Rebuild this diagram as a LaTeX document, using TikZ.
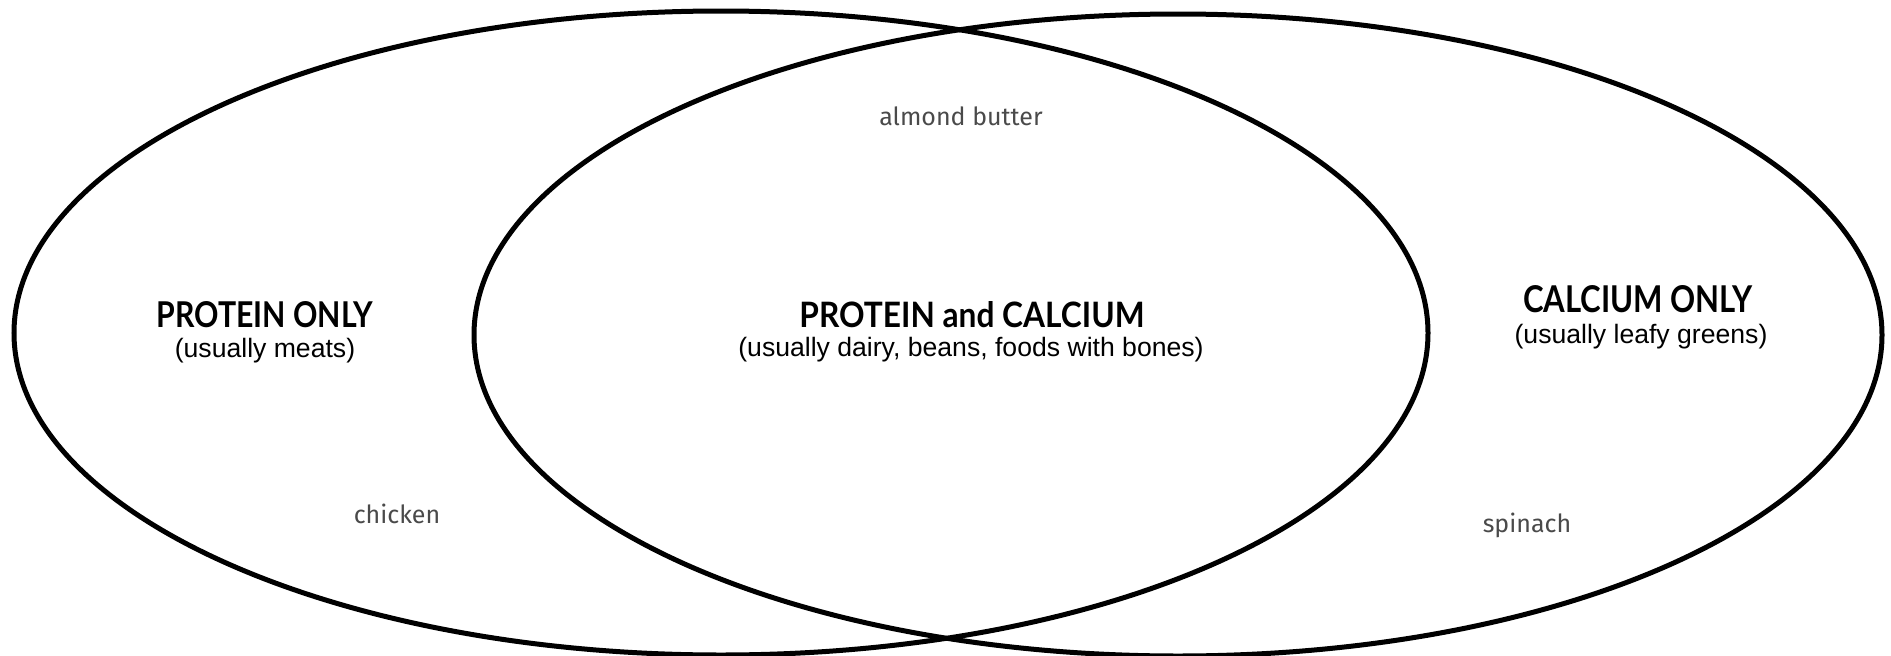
\documentclass[tikz,border=0pt]{standalone}
\usepackage{fontspec}
\setmainfont{Liberation Sans}
\newfontfamily\headfont{Lato}
\newfontfamily\handfont{Fira Sans}
\usetikzlibrary{shapes.geometric}
\definecolor{handgray}{HTML}{4A4A4A}
\tikzset{
  setring/.style={ellipse, draw=black, line width=5pt, inner sep=0pt, outer sep=0pt},
  headtext/.style={font=\headfont\bfseries, inner sep=0pt, anchor=base},
  subtext/.style={font=\fontsize{26.6pt}{30pt}\selectfont, inner sep=0pt, anchor=base},
  handtext/.style={font=\handfont\fontsize{25pt}{30pt}\selectfont, text=handgray, inner sep=0pt, anchor=base}
}
\begin{document}
\begin{tikzpicture}[x=1pt,y=-1pt]
\useasboundingbox[fill=white] (0,0) rectangle (1891,656);
\node[setring, minimum width=1414pt, minimum height=644pt] (protein) at (721,333) {};
\node[setring, minimum width=1408pt, minimum height=642pt] (calcium) at (1178,335) {};
\node[headtext] (ponly) at (265,327) {\resizebox{217pt}{26pt}{PROTEIN ONLY}};
\node[subtext] (ponlysub) at (265,357) {(usually meats)};
\node[headtext] (both) at (972,327) {\resizebox{345pt}{26pt}{PROTEIN and CALCIUM}};
\node[subtext] (bothsub) at (971,356) {(usually dairy, beans, foods with bones)};
\node[headtext] (conly) at (1638,312) {\resizebox{230pt}{27pt}{CALCIUM ONLY}};
\node[subtext] (conlysub) at (1641,343) {(usually leafy greens)};
\node[handtext] (almond) at (961,125) {almond butter};
\node[handtext] (chicken) at (397,523) {chicken};
\node[handtext] (spinach) at (1527,532) {spinach};
\end{tikzpicture}
\end{document}
